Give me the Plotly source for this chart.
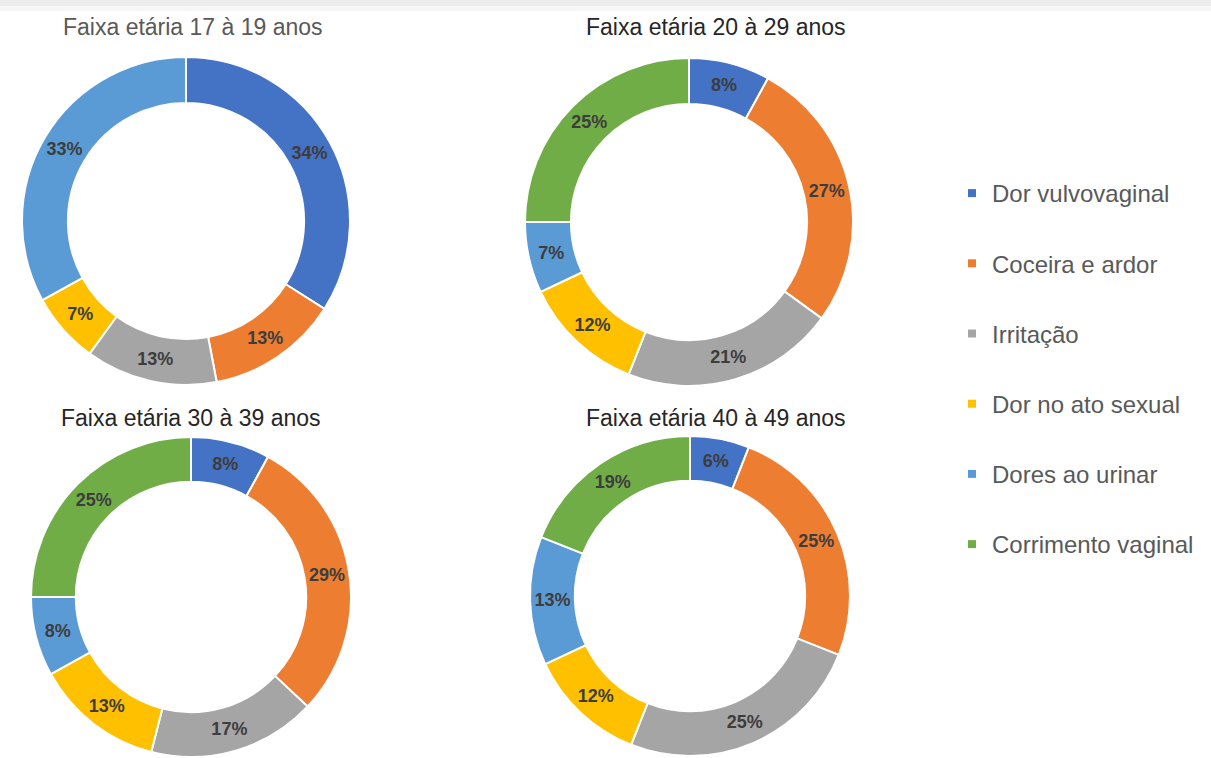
import plotly.graph_objects as go

# Symptom categories and their colours
categories = [
    "Dor vulvovaginal",
    "Coceira e ardor",
    "Irritação",
    "Dor no ato sexual",
    "Dores ao urinar",
    "Corrimento vaginal",
]
colors = ["#4472C4", "#ED7D31", "#A5A5A5", "#FFC000", "#5B9BD5", "#70AD47"]

# Percentage of each symptom per age group
titles = [
    "Faixa etária 17 à 19 anos",
    "Faixa etária 20 à 29 anos",
    "Faixa etária 30 à 39 anos",
    "Faixa etária 40 à 49 anos",
]
age_17_19 = [34, 13, 13, 7, 33, 0]
age_20_29 = [8, 27, 21, 12, 7, 25]
age_30_39 = [8, 29, 17, 13, 8, 25]
age_40_49 = [6, 25, 25, 12, 13, 19]
groups = [age_17_19, age_20_29, age_30_39, age_40_49]

W, H = 1211, 758

# Donut centres (px) and radii
centres = [(186, 221), (689, 222), (191, 597), (690, 596)]
radii = [164, 164, 160, 160]
title_pos = [(193, 27), (716, 27), (191, 418), (716, 418)]
title_colors = ["#595959", "#262626", "#262626", "#262626"]

fig = go.Figure()

for vals, (cx, cy), R in zip(groups, centres, radii):
    fig.add_trace(go.Pie(
        labels=categories,
        values=vals,
        hole=0.72,
        sort=False,
        direction="clockwise",
        rotation=0,
        marker=dict(colors=colors, line=dict(color="white", width=2)),
        texttemplate="%{value}%",
        textposition="inside",
        insidetextorientation="horizontal",
        textfont=dict(family="Liberation Sans, Arial", size=18, color="#3d3d3d", weight="bold"),
        showlegend=False,
        hoverinfo="label+value",
        domain=dict(
            x=[(cx - R) / W, (cx + R) / W],
            y=[max(0, 1 - (cy + R) / H), min(1, 1 - (cy - R) / H)],
        ),
    ))

# Legend entries, one group per category so the spacing can be widened
for name, col in zip(categories, colors):
    fig.add_trace(go.Scatter(
        x=[None], y=[None], mode="markers", name=name,
        legendgroup=name,
        marker=dict(symbol="square", size=8, color=col),
    ))

for t, (tx, ty), tc in zip(titles, title_pos, title_colors):
    fig.add_annotation(
        text=t, x=tx / W, y=1 - ty / H, xref="paper", yref="paper",
        showarrow=False, xanchor="center", yanchor="middle",
        font=dict(family="Liberation Sans, Arial", size=23, color=tc),
    )

# faint band along the top edge
fig.add_shape(type="rect", xref="paper", yref="paper", x0=0, x1=1,
              y0=1 - 6 / H, y1=1, fillcolor="#ededed", line=dict(width=0), layer="below")
fig.add_shape(type="rect", xref="paper", yref="paper", x0=0, x1=1,
              y0=1 - 11 / H, y1=1 - 6 / H, fillcolor="#f7f7f7", line=dict(width=0), layer="below")

fig.update_layout(
    width=W, height=H,
    margin=dict(l=0, r=0, t=0, b=0),
    paper_bgcolor="white", plot_bgcolor="white",
    xaxis=dict(visible=False), yaxis=dict(visible=False),
    legend=dict(
        x=952 / W, y=1 - 171 / H, xanchor="left", yanchor="top",
        font=dict(family="Liberation Sans, Arial", size=24, color="#595959"),
        tracegroupgap=36, itemwidth=30, bgcolor="rgba(0,0,0,0)",
    ),
)

fig.write_html("out.html")
